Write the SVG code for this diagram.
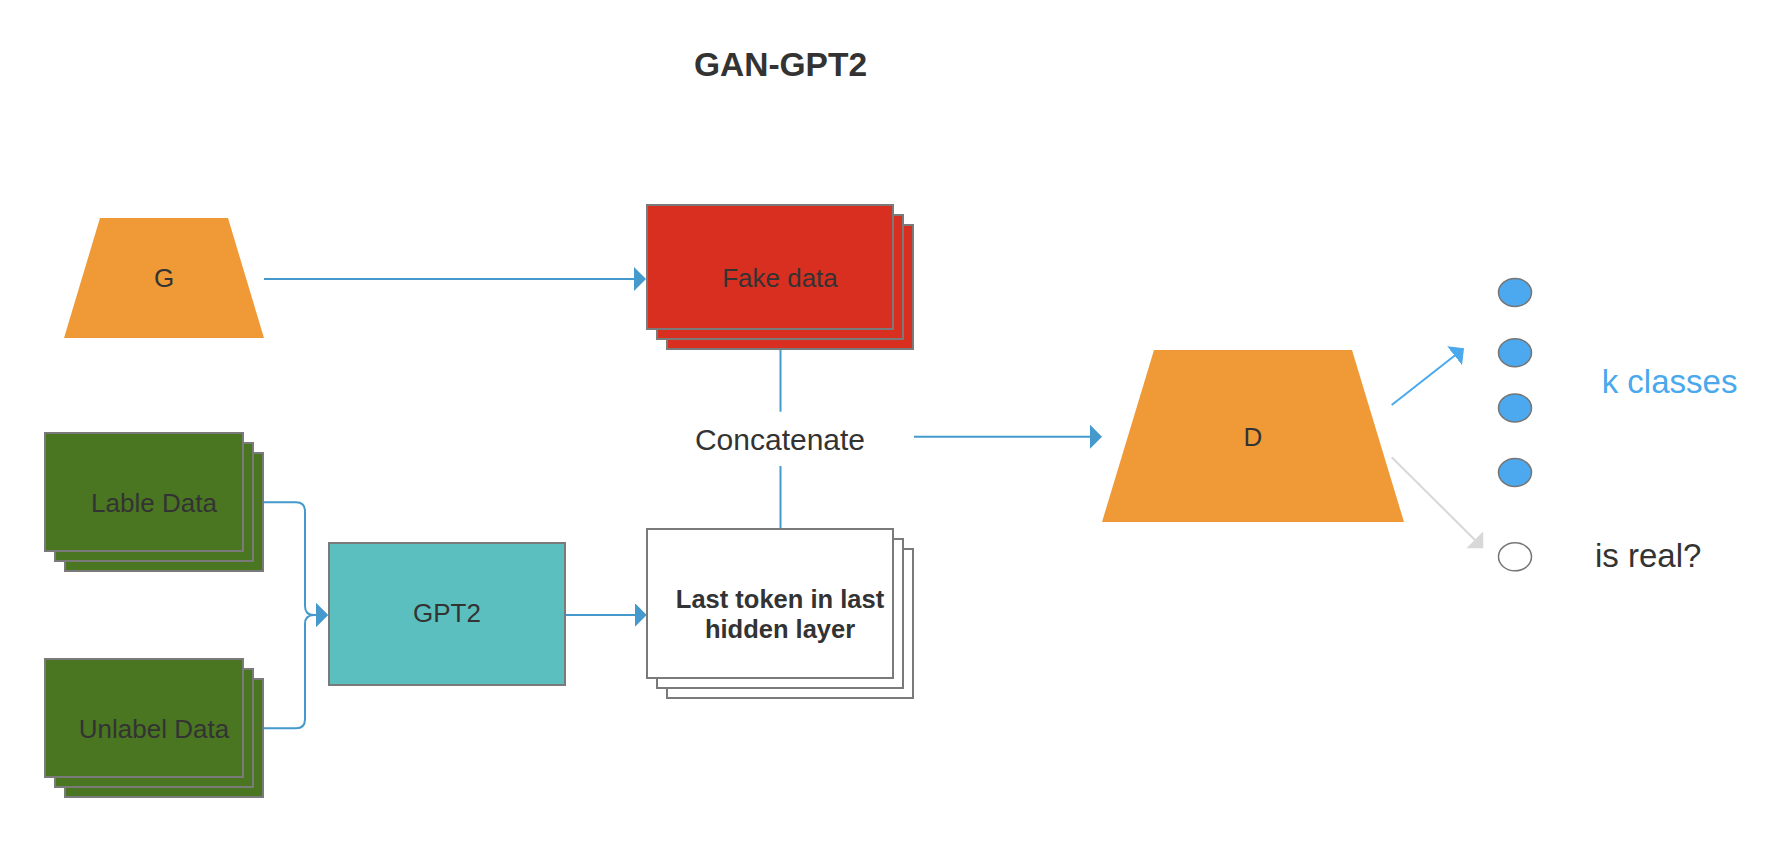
<svg xmlns="http://www.w3.org/2000/svg" width="1772" height="844" viewBox="0 0 1772 844">
<style>
  text { font-family: "Liberation Sans", Arial, sans-serif; fill: #333333; }
  .t25 { font-size: 26px; }
  .box { stroke: #7a7a7a; stroke-width: 2; }
  .green { fill: #4a7521; }
  .red { fill: #d92f21; }
  .white { fill: #ffffff; }
  .teal { fill: #5bbfc0; }
  .orange { fill: #f09a37; }
  .conn { fill: none; stroke: #4599cc; stroke-width: 2; }
  .dot { fill: #4da9ef; stroke: #757575; stroke-width: 1.5; }
</style>
<defs>
  <marker id="blk" markerUnits="userSpaceOnUse" markerWidth="14" markerHeight="26" refX="6" refY="12" orient="auto" viewBox="0 0 14 26">
    <path d="M0,0 L12,12 L0,24 Z" fill="#4599cc"/>
  </marker>
  <marker id="bluearr" markerUnits="userSpaceOnUse" markerWidth="14" markerHeight="26" refX="6" refY="12" orient="auto" viewBox="0 0 14 26">
    <path d="M0,0 L12,12 L0,24 Z" fill="#4aa8ec"/>
  </marker>
  <marker id="grayarr" markerUnits="userSpaceOnUse" markerWidth="14" markerHeight="26" refX="6" refY="12" orient="auto" viewBox="0 0 14 26">
    <path d="M0,0 L12,12 L0,24 Z" fill="#d8d8d8"/>
  </marker>
</defs>
<rect width="1772" height="844" fill="#ffffff"/>

<g id="title">
  <text x="780.5" y="76" text-anchor="middle" font-size="33.5" font-weight="bold">GAN-GPT2</text>
</g>

<g id="connectors">
  <path class="conn" d="M264,279 H640" marker-end="url(#blk)"/>
  <path class="conn" d="M263,502.3 H296 Q305,502.3 305,511.3 V606 Q305,615 314,615 H322" marker-end="url(#blk)"/>
  <path class="conn" d="M263,728.3 H296 Q305,728.3 305,719.3 V624 Q305,615 314,615 H322" marker-end="url(#blk)"/>
  <path class="conn" d="M565,615 H640.7" marker-end="url(#blk)"/>
  <path class="conn" d="M780.5,349 V411.7"/>
  <path class="conn" d="M780.5,466 V529"/>
  <path class="conn" d="M914,436.7 H1096" marker-end="url(#blk)"/>
  <path d="M1391.7,405 L1459.3,352" fill="none" stroke="#4aa8ec" stroke-width="2" marker-end="url(#bluearr)"/>
  <path d="M1391.7,457.3 L1479,544" fill="none" stroke="#d8d8d8" stroke-width="2" marker-end="url(#grayarr)"/>
</g>

<g id="node-g">
  <polygon class="orange" points="100,218 228,218 264,338 64,338"/>
  <text class="t25" x="164" y="286.5" text-anchor="middle">G</text>
</g>

<g id="node-fake-data">
  <rect class="box red" x="667" y="225" width="246" height="124"/>
  <rect class="box red" x="657" y="215" width="246" height="124"/>
  <rect class="box red" x="647" y="205" width="246" height="124"/>
  <text class="t25" x="780" y="287" text-anchor="middle">Fake data</text>
</g>

<g id="node-lable-data">
  <rect class="box green" x="65" y="453" width="198" height="118"/>
  <rect class="box green" x="55" y="443" width="198" height="118"/>
  <rect class="box green" x="45" y="433" width="198" height="118"/>
  <text class="t25" x="154" y="512" text-anchor="middle">Lable Data</text>
</g>

<g id="node-unlabel-data">
  <rect class="box green" x="65" y="679" width="198" height="118"/>
  <rect class="box green" x="55" y="669" width="198" height="118"/>
  <rect class="box green" x="45" y="659" width="198" height="118"/>
  <text class="t25" x="154" y="738" text-anchor="middle">Unlabel Data</text>
</g>

<g id="node-gpt2">
  <rect class="box teal" x="329" y="543" width="236" height="142"/>
  <text class="t25" x="447" y="622" text-anchor="middle">GPT2</text>
</g>

<g id="node-last-token">
  <rect class="box white" x="667" y="549" width="246" height="149"/>
  <rect class="box white" x="657" y="539" width="246" height="149"/>
  <rect class="box white" x="647" y="529" width="246" height="149"/>
  <text x="780" y="607.7" text-anchor="middle" font-size="25.5" font-weight="bold">Last token in last</text>
  <text x="780" y="637.7" text-anchor="middle" font-size="25.5" font-weight="bold">hidden layer</text>
</g>

<g id="node-concatenate">
  <text x="780" y="450" text-anchor="middle" font-size="30">Concatenate</text>
</g>

<g id="node-d">
  <polygon class="orange" points="1154,350 1352,350 1404,522 1102,522"/>
  <text class="t25" x="1253" y="446" text-anchor="middle">D</text>
</g>

<g id="node-classes">
  <ellipse class="dot" cx="1515" cy="292.5" rx="16.5" ry="14"/>
  <ellipse class="dot" cx="1515" cy="352.7" rx="16.5" ry="14"/>
  <ellipse class="dot" cx="1515" cy="408" rx="16.5" ry="14"/>
  <ellipse class="dot" cx="1515" cy="472.5" rx="16.5" ry="14"/>
  <text x="1601.7" y="393.3" font-size="33" style="fill:#4aa8ec">k classes</text>
</g>

<g id="node-is-real">
  <ellipse cx="1515" cy="556.8" rx="16.5" ry="14" fill="#ffffff" stroke="#757575" stroke-width="1.5"/>
  <text x="1595" y="566.7" font-size="33">is real?</text>
</g>
</svg>
